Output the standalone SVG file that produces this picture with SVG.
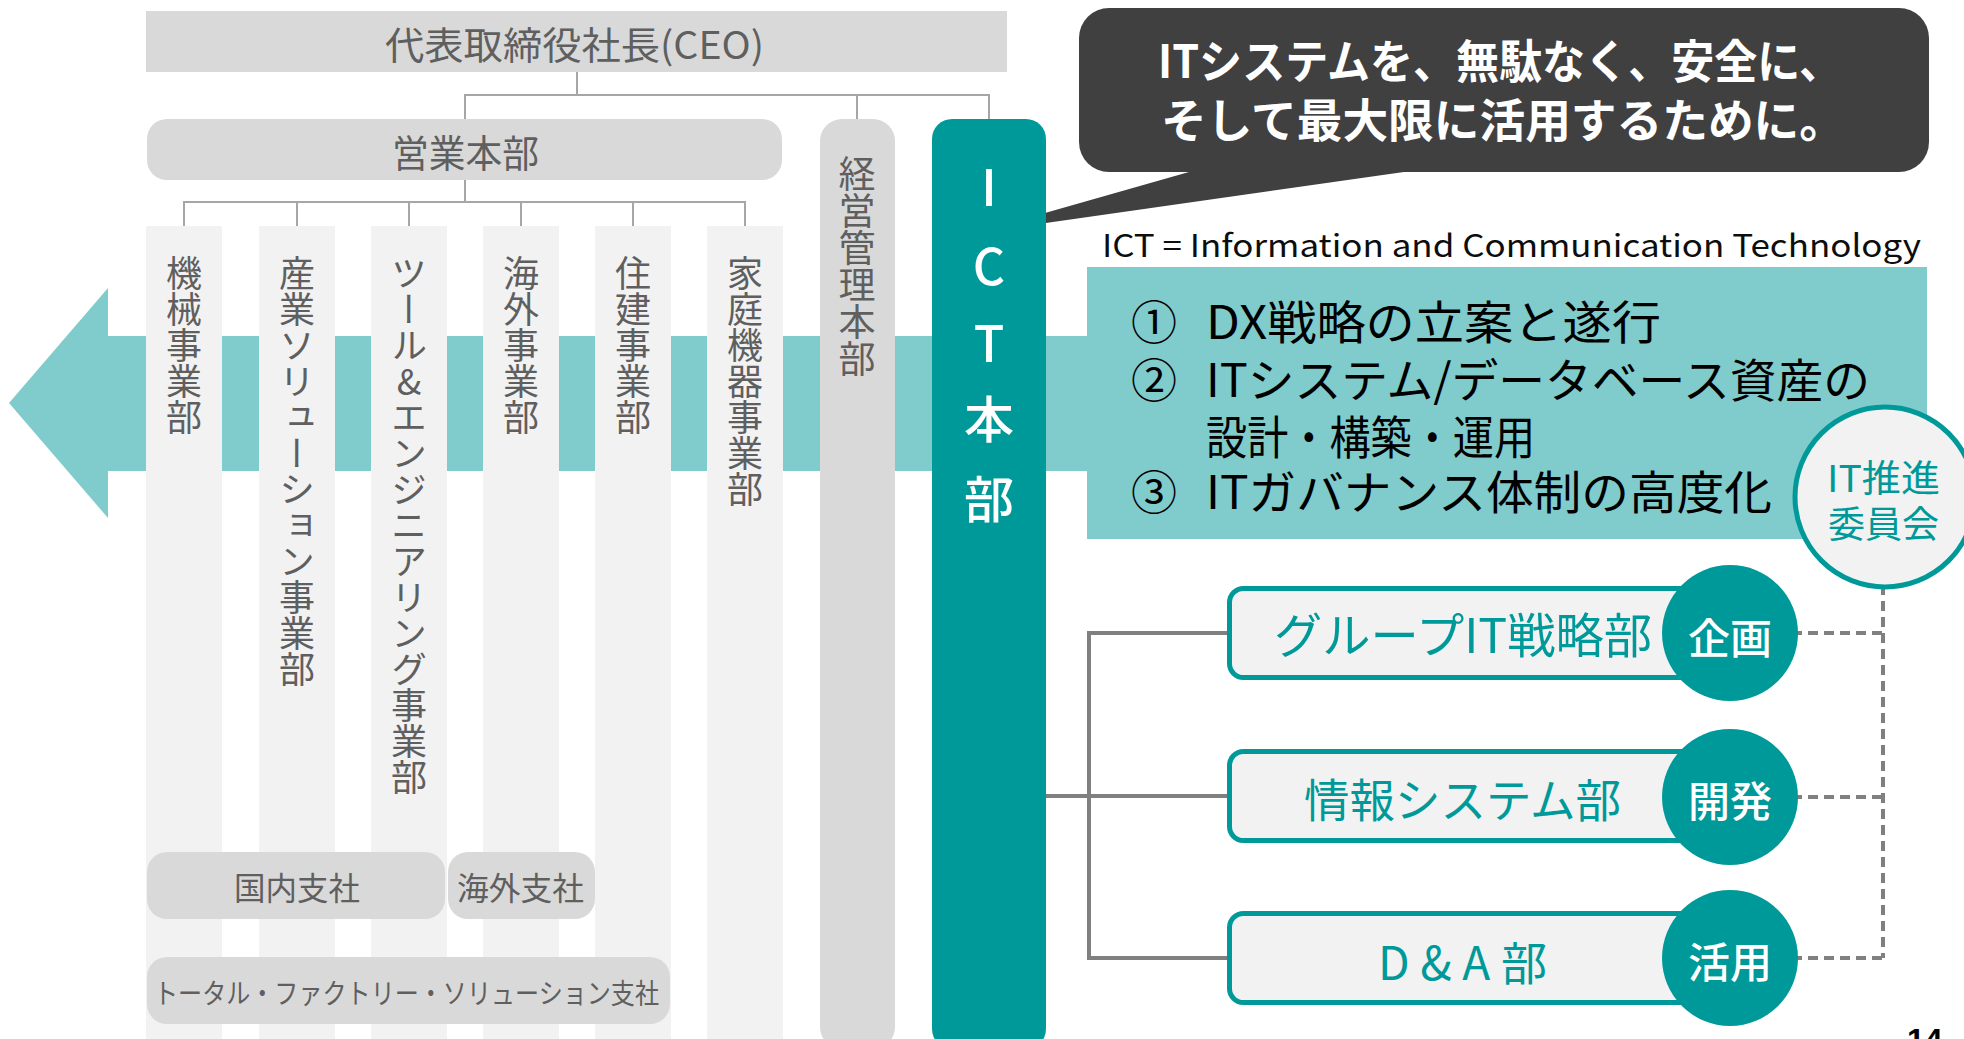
<svg xmlns="http://www.w3.org/2000/svg" width="1964" height="1039" viewBox="0 0 1964 1039">
<style>
.jp{font-family:'Noto Sans CJK JP','Noto Sans',sans-serif}
.gt{fill:#5f5f5f}
.box{fill:#d9d9d9}
.col{fill:#f2f2f2}
.vt{writing-mode:vertical-rl;text-orientation:upright;font-size:36px;fill:#5f5f5f;font-family:'Noto Sans CJK JP',sans-serif}
.tree{stroke:#a6a6a6;stroke-width:2;fill:none}
.conn{stroke:#808080;stroke-width:4;fill:none}
.dash{stroke:#808080;stroke-width:4;fill:none;stroke-dasharray:10 6}
.dept{fill:#f2f2f2;stroke:#009999;stroke-width:5}
.dc{fill:#009999}
.teal{fill:#009999}
.item{font-size:46px;fill:#000}
</style>

<g id="arrow">
<polygon points="9,403 108,288 108,336 1087,336 1087,471 108,471 108,518" fill="#80cbcb"/>
</g>

<g id="connectors">
<polyline class="tree" points="577,72 577,95"/>
<polyline class="tree" points="465,119 465,95 989,95 989,119"/>
<polyline class="tree" points="857,95 857,119"/>
<polyline class="tree" points="465,180 465,202"/>
<polyline class="tree" points="184,226 184,202 745,202 745,226"/>
<polyline class="tree" points="297,202 297,226"/>
<polyline class="tree" points="409,202 409,226"/>
<polyline class="tree" points="521,202 521,226"/>
<polyline class="tree" points="633,202 633,226"/>
<polyline class="conn" points="1040,796 1089,796"/>
<polyline class="conn" points="1229,633 1089,633 1089,958 1229,958"/>
<polyline class="conn" points="1089,796 1229,796"/>
<polyline class="dash" points="1883,585 1883,958"/>
<polyline class="dash" points="1760,633 1883,633"/>
<polyline class="dash" points="1760,797 1883,797"/>
<polyline class="dash" points="1760,958 1883,958"/>
</g>

<g id="ceo">
<rect class="box" x="146" y="11" width="861" height="61"/>
<text class="jp gt" x="385" y="59" font-size="38" textLength="379" lengthAdjust="spacingAndGlyphs">代表取締役社長(CEO)</text>
</g>

<g id="eigyo">
<rect class="box" x="147" y="119" width="635" height="61" rx="20"/>
<text class="jp gt" x="392" y="167" font-size="38" textLength="147" lengthAdjust="spacingAndGlyphs">営業本部</text>
</g>

<g id="col-kikai">
<rect class="col" x="146" y="226" width="76" height="820"/>
<text class="vt" x="184" y="255">機械事業部</text>
</g>
<g id="col-sangyo">
<rect class="col" x="259" y="226" width="76" height="820"/>
<text class="vt" x="297" y="255">産業ソリューション事業部</text>
</g>
<g id="col-tool">
<rect class="col" x="371" y="226" width="76" height="820"/>
<text class="vt" x="409" y="255">ツール&amp;エンジニアリング事業部</text>
</g>
<g id="col-kaigai">
<rect class="col" x="483" y="226" width="76" height="820"/>
<text class="vt" x="521" y="255">海外事業部</text>
</g>
<g id="col-juken">
<rect class="col" x="595" y="226" width="76" height="820"/>
<text class="vt" x="633" y="255">住建事業部</text>
</g>
<g id="col-katei">
<rect class="col" x="707" y="226" width="76" height="820"/>
<text class="vt" x="745" y="255">家庭機器事業部</text>
</g>

<g id="kokunai">
<rect class="box" x="147" y="852" width="298" height="67" rx="20"/>
<text class="jp gt" x="234" y="900" font-size="32" textLength="126" lengthAdjust="spacingAndGlyphs">国内支社</text>
</g>
<g id="kaigai-shisha">
<rect class="box" x="448" y="852" width="147" height="67" rx="20"/>
<text class="jp gt" x="457" y="900" font-size="32" textLength="127" lengthAdjust="spacingAndGlyphs">海外支社</text>
</g>
<g id="tfs">
<rect class="box" x="147" y="957" width="523" height="67" rx="20"/>
<text class="jp gt" x="154" y="1004" font-size="28" textLength="505" lengthAdjust="spacingAndGlyphs">トータル・ファクトリー・ソリューション支社</text>
</g>

<g id="keiei">
<rect class="box" x="820" y="119" width="75" height="930" rx="22"/>
<text class="vt" x="857" y="155" style="font-size:37px">経営管理本部</text>
</g>

<g id="bubble">
<polygon points="1203,168 1432,168 975,233" fill="#404040"/>
<rect x="1079" y="8" width="850" height="164" rx="30" fill="#404040"/>
<text class="jp" x="1158" y="78" font-size="46" font-weight="bold" fill="#fff" textLength="684" lengthAdjust="spacingAndGlyphs">ITシステムを、無駄なく、安全に、</text>
<text class="jp" x="1161" y="137" font-size="46" font-weight="bold" fill="#fff" textLength="684" lengthAdjust="spacingAndGlyphs">そして最大限に活用するために。</text>
</g>

<g id="ict">
<rect class="teal" x="932" y="119" width="114" height="930" rx="20"/>
<text class="jp" x="989 989 989 989 989" y="206 285 362 438 518" font-size="50" font-weight="500" fill="#fff" text-anchor="middle">ICT本部</text>
</g>

<g id="ict-def">
<text class="jp" x="1102" y="257" font-size="31" fill="#0d0d0d" textLength="819" lengthAdjust="spacingAndGlyphs">ICT = Information and Communication Technology</text>
</g>

<g id="roles">
<rect x="1087" y="267" width="840" height="272" fill="#80cbcb"/>
<text class="jp item" x="1131" y="339" font-size="49">①</text>
<text class="jp item" x="1206" y="339" textLength="455" lengthAdjust="spacingAndGlyphs">DX戦略の立案と遂行</text>
<text class="jp item" x="1131" y="397" font-size="49">②</text>
<text class="jp item" x="1206" y="397" textLength="664" lengthAdjust="spacingAndGlyphs">ITシステム/データベース資産の</text>
<text class="jp item" x="1206" y="454" textLength="329" lengthAdjust="spacingAndGlyphs">設計・構築・運用</text>
<text class="jp item" x="1131" y="509" font-size="49">③</text>
<text class="jp item" x="1206" y="509" textLength="566" lengthAdjust="spacingAndGlyphs">ITガバナンス体制の高度化</text>
</g>

<g id="it-committee">
<circle cx="1885" cy="497" r="90" fill="#f2f2f2" stroke="#009999" stroke-width="5"/>
<text class="jp" x="1827" y="492" font-size="37" fill="#009999" textLength="113" lengthAdjust="spacingAndGlyphs">IT推進</text>
<text class="jp" x="1828" y="538" font-size="37" fill="#009999" textLength="111" lengthAdjust="spacingAndGlyphs">委員会</text>
</g>

<g id="dept-strategy">
<rect class="dept" x="1229.5" y="588.5" width="480" height="89" rx="14"/>
<text class="jp teal" x="1274" y="653" font-size="48" textLength="378" lengthAdjust="spacingAndGlyphs">グループIT戦略部</text>
<circle class="dc" cx="1730" cy="633" r="68"/>
<text class="jp" x="1730" y="654" font-size="42" font-weight="500" fill="#fff" text-anchor="middle">企画</text>
</g>

<g id="dept-system">
<rect class="dept" x="1229.5" y="751.5" width="480" height="89" rx="14"/>
<text class="jp teal" x="1304" y="817" font-size="46" textLength="317" lengthAdjust="spacingAndGlyphs">情報システム部</text>
<circle class="dc" cx="1730" cy="797" r="68"/>
<text class="jp" x="1730" y="817" font-size="42" font-weight="500" fill="#fff" text-anchor="middle">開発</text>
</g>

<g id="dept-da">
<rect class="dept" x="1229.5" y="913.5" width="480" height="89" rx="14"/>
<text class="jp teal" x="1378" y="980" font-size="46" textLength="169" lengthAdjust="spacing">D&amp;A部</text>
<circle class="dc" cx="1730" cy="958" r="68"/>
<text class="jp" x="1730" y="978" font-size="42" font-weight="500" fill="#fff" text-anchor="middle">活用</text>
</g>

<g id="page">
<text x="1907" y="1051" font-family="'Liberation Sans',sans-serif" font-size="32" font-weight="bold" fill="#000">14</text>
</g>
</svg>
